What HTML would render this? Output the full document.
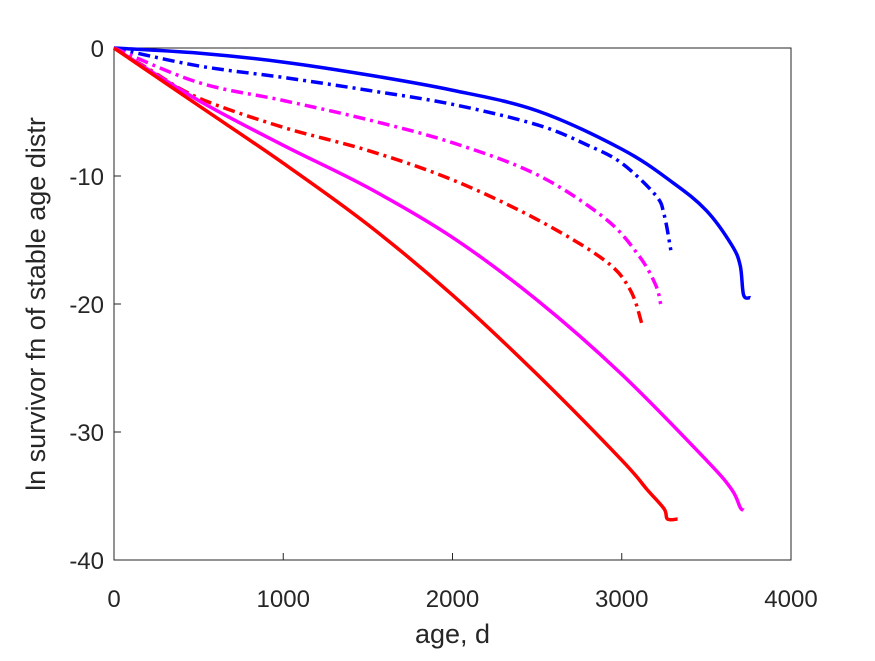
<!DOCTYPE html>
<html><head><meta charset="utf-8"><style>body{margin:0;background:#fff}svg text{font-family:"Liberation Sans",sans-serif;fill:#262626}</style></head>
<body>
<svg id="chart" width="875" height="656" xmlns="http://www.w3.org/2000/svg">
<rect width="875" height="656" fill="#fff"/>
<g id="plot"></g>
</svg>
<script>
const xTicks=[0,1000,2000,3000,4000];
const yTicks=[0,-10,-20,-30,-40];
const blueSolidX=[0,500,1000,1500,2000,2500,3000,3300,3500,3650,3700,3720,3760];
const blueSolidY=[0,-0.4,-1.1,-2.1,-3.3,-4.9,-7.9,-10.5,-12.7,-15.4,-17,-19.3,-19.5];
const blueDashX=[0,500,1000,1500,2000,2500,2800,3000,3200,3250,3290];
const blueDashY=[0,-1.4,-2.3,-3.3,-4.4,-6,-7.6,-9,-11.5,-13,-15.8];
const magDashX=[0,500,1000,1500,2000,2500,2900,3100,3200,3230];
const magDashY=[0,-2.7,-4.1,-5.6,-7.4,-9.9,-13.3,-16.2,-18.5,-20];
const redDashX=[0,200,500,1000,1500,2000,2500,2900,3050,3120];
const redDashY=[0,-1.6,-3.9,-6.2,-8,-10.3,-13.4,-16.6,-18.9,-21.6];
const magSolidX=[0,500,1000,1500,2000,2500,3000,3500,3650,3700,3720];
const magSolidY=[0,-4.1,-7.6,-10.9,-14.8,-19.7,-25.5,-32.2,-34.5,-35.9,-36.1];
const redSolidX=[0,500,1000,1500,2000,2500,3000,3150,3250,3270,3330];
const redSolidY=[0,-4.5,-9,-13.8,-19.3,-25.5,-32.2,-34.5,-36,-36.8,-36.8];
const L=114,R=791,T=48,B=560;
const sx=v=>L+v/4000*(R-L), sy=v=>T+(0-v)/40*(B-T);
const NS="http://www.w3.org/2000/svg", g=document.getElementById('plot');
function mk(t,a){const e=document.createElementNS(NS,t);for(const k in a)e.setAttribute(k,a[k]);g.appendChild(e);return e;}
const ax=mk('rect',{x:L,y:T,width:R-L,height:B-T,fill:'none',stroke:'#262626','stroke-width':1});


xTicks.forEach(v=>{
 const l=mk('line',{x1:sx(v),x2:sx(v),y1:B,y2:B-7,stroke:'#262626'});
 
 
 const t=mk('text',{x:sx(v),y:B+47,'font-size':24,'text-anchor':'middle'});t.textContent=v;
 
 
});
yTicks.forEach(v=>{
 const l=mk('line',{x1:L,x2:L+7,y1:sy(v),y2:sy(v),stroke:'#262626'});
 
 
 const t=mk('text',{x:L-10,y:sy(v)+9,'font-size':24,'text-anchor':'end'});t.textContent=v;
 
 
});
const xt=mk('text',{x:(L+R)/2,y:643,'font-size':27,'text-anchor':'middle'});xt.textContent='age, d';


const yt=mk('text',{x:0,y:0,'font-size':27,'text-anchor':'middle',transform:`translate(45,${(T+B)/2}) rotate(-90)`});yt.textContent='ln survivor fn of stable age distr';


function line(X,Y,c,dash,name){
 const P=X.map((x,i)=>[sx(x),sy(Y[i])]);
 let d='M'+P[0][0]+','+P[0][1];
 for(let i=0;i<P.length-1;i++){
  const p0=P[Math.max(0,i-1)],p1=P[i],p2=P[i+1],p3=P[Math.min(P.length-1,i+2)];
  const c1=[p1[0]+(p2[0]-p0[0])/6,p1[1]+(p2[1]-p0[1])/6];
  const c2=[p2[0]-(p3[0]-p1[0])/6,p2[1]-(p3[1]-p1[1])/6];
  d+=` C${c1[0]},${c1[1]} ${c2[0]},${c2[1]} ${p2[0]},${p2[1]}`;
 }
 const p=mk('path',{d:d,fill:'none',stroke:c,'stroke-width':3.5,'stroke-dasharray':dash?'12,5,3,5':'none'});
 
 
}
line(blueSolidX,blueSolidY,'#0000ff',false,'series-blue-solid');
line(blueDashX,blueDashY,'#0000ff',true,'series-blue-dashdot');
line(magDashX,magDashY,'#ff00ff',true,'series-magenta-dashdot');
line(redDashX,redDashY,'#ff0000',true,'series-red-dashdot');
line(magSolidX,magSolidY,'#ff00ff',false,'series-magenta-solid');
line(redSolidX,redSolidY,'#ff0000',false,'series-red-solid');
</script>
</body></html>
